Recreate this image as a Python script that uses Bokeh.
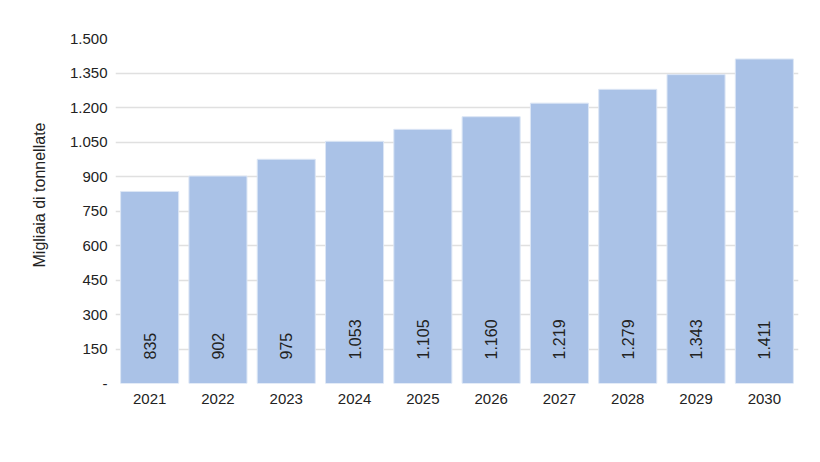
from math import pi

from bokeh.embed import file_html
from bokeh.models import ColumnDataSource, FixedTicker, Title
from bokeh.plotting import figure
from bokeh.resources import INLINE

years = ["2021", "2022", "2023", "2024", "2025", "2026", "2027", "2028", "2029", "2030"]
values = [835, 902, 975, 1053, 1105, 1160, 1219, 1279, 1343, 1411]
y_ticks = [0, 150, 300, 450, 600, 750, 900, 1050, 1200, 1350, 1500]


def it_num(v):
    # italian thousands separator
    return f"{v:,}".replace(",", ".")


source = ColumnDataSource(data=dict(
    years=years,
    values=values,
    labels=[it_num(v) for v in values],
    zero=[0] * len(values),
))

p = figure(
    x_range=years,
    y_range=(0, 1500),
    width=804,
    height=446,
    output_backend="svg",
    toolbar_location=None,
    min_border_left=115,
    min_border_right=6,
    min_border_top=38,
    min_border_bottom=63,
)
p.outline_line_color = None

p.vbar(x="years", top="values", width=0.85, source=source,
       fill_color="#aac2e7", line_color="#dce6f5", line_width=1)

p.text(x="years", y="zero", text="labels", source=source,
       angle=pi / 2, text_align="left", text_baseline="middle",
       y_offset=-24, text_font_size="16px", text_color="#222222",
       text_font={"value": "Liberation Sans"})

p.yaxis.ticker = FixedTicker(ticks=y_ticks)
p.yaxis.major_label_overrides = {t: ("-" if t == 0 else it_num(t)) for t in y_ticks}

for ax in (p.xaxis, p.yaxis):
    ax.axis_line_color = None
    ax.major_tick_line_color = None
    ax.minor_tick_line_color = None
    ax.major_label_text_font = "Liberation Sans"
    ax.major_label_text_font_size = "15px"
    ax.major_label_text_color = "#222222"
p.yaxis.major_label_standoff = 2
p.xaxis.major_label_standoff = 4

p.xgrid.grid_line_color = None
p.ygrid.grid_line_color = "#e0e0e0"
p.ygrid.grid_line_width = 1.5

p.add_layout(Title(
    text="Migliaia di tonnellate", align="left", offset=116, standoff=38,
    text_font="Liberation Sans", text_font_size="16px",
    text_font_style="normal", text_color="#222222",
), "left")

open("out.html", "w").write(file_html(p, INLINE))
